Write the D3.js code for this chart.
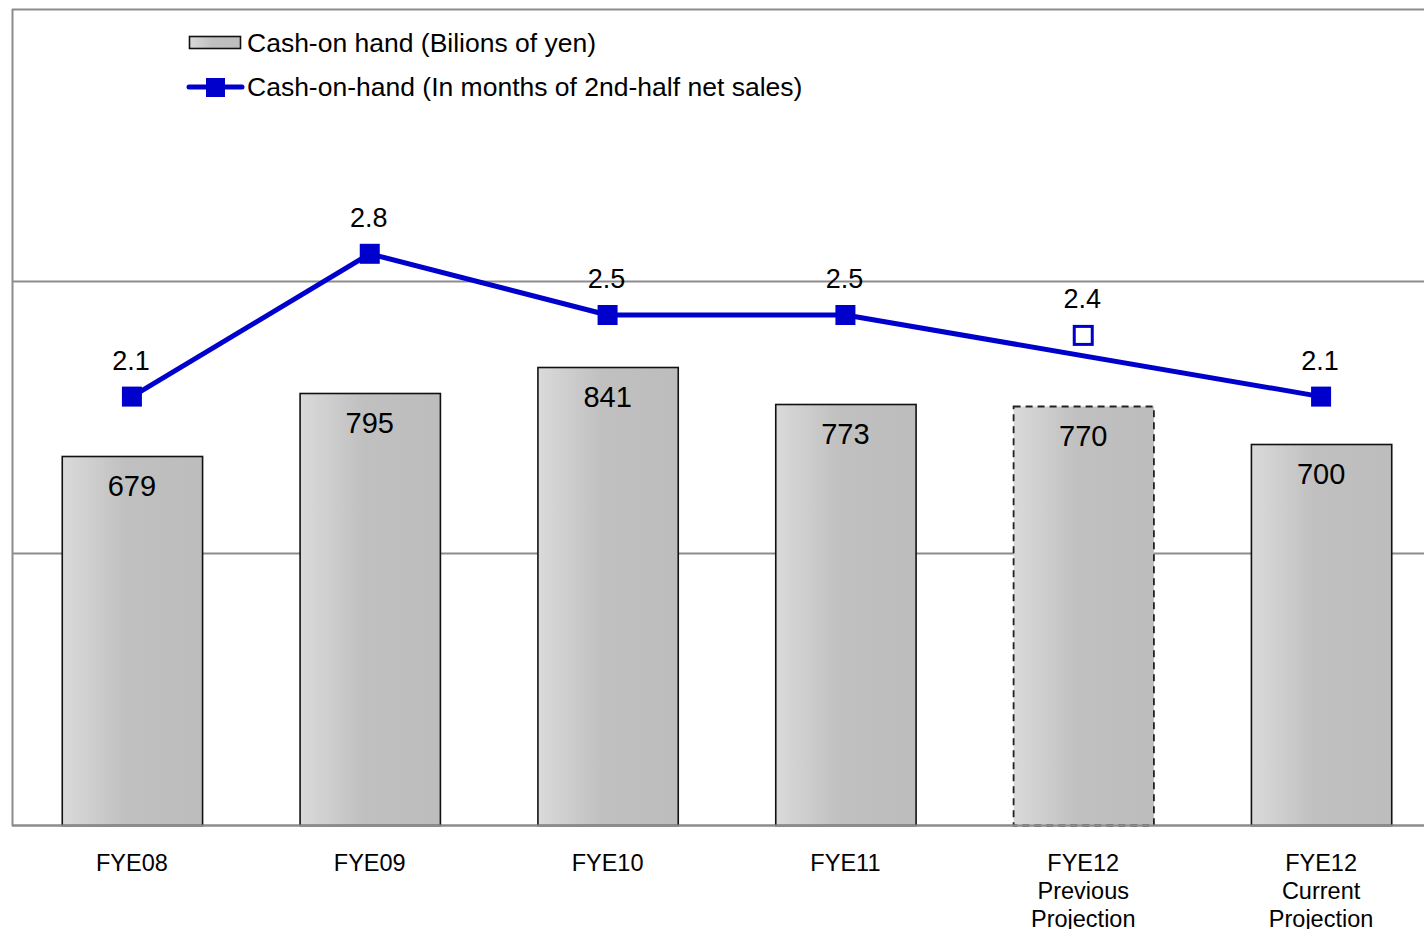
<!DOCTYPE html>
<html>
<head>
<meta charset="utf-8">
<script src="https://cdn.jsdelivr.net/npm/d3@7"></script>
<style>
  body { margin: 0; background: #fff; }
  svg { display: block; font-family: "Liberation Sans", Arial, sans-serif; }
</style>
</head>
<body>
<div id="chart"></div>
<script>
// categories and values
var categories = ['FYE08', 'FYE09', 'FYE10', 'FYE11', 'FYE12\nPrevious\nProjection', 'FYE12\nCurrent\nProjection'];
var cashBillions = [679, 795, 841, 773, 770, 700];
var cashMonths = [2.1, 2.8, 2.5, 2.5, 2.4, 2.1];
// the previous projection is shown as a hollow marker, not joined to the line
var projectionFlags = [false, false, false, false, true, false];
var barTicks = [0, 500, 1000, 1500];
var legendLabels = ['Cash-on hand (Bilions of yen)', 'Cash-on-hand (In months of 2nd-half net sales)'];

var width = 1424, height = 929;
var margin = { top: 9, left: 12, bottom: 104 };

var svg = d3.select('#chart').append('svg')
	.attr('width', width)
	.attr('height', height);

var defs = svg.append('defs');
var grad = defs.append('linearGradient')
	.attr('id', 'barGrad')
	.attr('x1', '0%').attr('x2', '100%').attr('y1', '0%').attr('y2', '0%');
grad.append('stop').attr('offset', '0%').attr('stop-color', '#dadada');
grad.append('stop').attr('offset', '45%').attr('stop-color', '#c0c0c0');
grad.append('stop').attr('offset', '100%').attr('stop-color', '#bdbdbd');

var x = d3.scaleBand()
	.domain(categories)
	.range([13, 1440])
	.paddingInner(0.41)
	.paddingOuter(0.205);

var yBar = d3.scaleLinear().domain([0, 1500]).range([height - margin.bottom, margin.top]);
var yLine = d3.scaleLinear().domain([0, 4]).range([height - margin.bottom, margin.top]);

// gridlines
svg.append('g').selectAll('line')
	.data(barTicks)
	.enter().append('line')
	.attr('x1', margin.left).attr('x2', width)
	.attr('y1', function(d) { return Math.round(yBar(d)) + 0.5; })
	.attr('y2', function(d) { return Math.round(yBar(d)) + 0.5; })
	.attr('stroke', '#8c8c8c')
	.attr('stroke-width', 2);

// left axis line
svg.append('line')
	.attr('x1', margin.left + 0.5).attr('x2', margin.left + 0.5)
	.attr('y1', yBar(1500)).attr('y2', yBar(0) + 1)
	.attr('stroke', '#8c8c8c')
	.attr('stroke-width', 2);

// bars
var bars = svg.append('g');
bars.selectAll('rect')
	.data(cashBillions)
	.enter().append('rect')
	.attr('x', function(d, i) { return x(categories[i]) + 0.5; })
	.attr('y', function(d) { return Math.round(yBar(d)) + 0.5; })
	.attr('width', x.bandwidth())
	.attr('height', function(d) { return yBar(0) - Math.round(yBar(d)); })
	.attr('fill', 'url(#barGrad)')
	.attr('stroke', function(d, i) { return projectionFlags[i] ? '#222' : '#111'; })
	.attr('stroke-width', function(d, i) { return projectionFlags[i] ? 1.8 : 1.6; })
	.attr('stroke-dasharray', function(d, i) { return projectionFlags[i] ? '7,5' : null; });

bars.selectAll('text')
	.data(cashBillions)
	.enter().append('text')
	.attr('x', function(d, i) { return x(categories[i]) + x.bandwidth() / 2; })
	.attr('y', function(d) { return yBar(d) + 40; })
	.attr('text-anchor', 'middle')
	.attr('font-size', '29px')
	.attr('fill', '#000')
	.text(function(d) { return d; });

// redraw baseline above the bars
svg.append('line')
	.attr('x1', margin.left).attr('x2', width)
	.attr('y1', Math.round(yBar(0)) + 0.5).attr('y2', Math.round(yBar(0)) + 0.5)
	.attr('stroke', '#8c8c8c')
	.attr('stroke-width', 2);

// line series
var cx = function(i) { return x(categories[i]) + x.bandwidth() / 2; };
var linePts = cashMonths.map(function(d, i) { return { i: i, v: d }; })
	.filter(function(p) { return !projectionFlags[p.i]; });

var line = d3.line()
	.x(function(p) { return cx(p.i); })
	.y(function(p) { return yLine(p.v); });

svg.append('path')
	.datum(linePts)
	.attr('d', line)
	.attr('fill', 'none')
	.attr('stroke', '#0000cc')
	.attr('stroke-width', 5)
	.attr('stroke-linejoin', 'round');

var markers = svg.append('g');
markers.selectAll('rect')
	.data(cashMonths)
	.enter().append('rect')
	.attr('x', function(d, i) { return cx(i) - (projectionFlags[i] ? 9 : 10); })
	.attr('y', function(d, i) { return yLine(d) - (projectionFlags[i] ? 9 : 10); })
	.attr('width', function(d, i) { return projectionFlags[i] ? 18 : 20; })
	.attr('height', function(d, i) { return projectionFlags[i] ? 18 : 20; })
	.attr('fill', function(d, i) { return projectionFlags[i] ? '#fff' : '#0000cc'; })
	.attr('stroke', '#0000cc')
	.attr('stroke-width', function(d, i) { return projectionFlags[i] ? 3 : 0; });

markers.selectAll('text')
	.data(cashMonths)
	.enter().append('text')
	.attr('x', function(d, i) { return cx(i) - 1; })
	.attr('y', function(d) { return yLine(d) - 27; })
	.attr('text-anchor', 'middle')
	.attr('font-size', '27px')
	.attr('fill', '#000')
	.text(function(d) { return d.toFixed(1); });

// category labels
var catG = svg.append('g');
categories.forEach(function(c, i) {
	var t = catG.append('text')
		.attr('x', cx(i))
		.attr('y', 871)
		.attr('text-anchor', 'middle')
		.attr('font-size', '23.5px')
		.attr('fill', '#000');
	c.split('\n').forEach(function(part, k) {
		t.append('tspan')
			.attr('x', cx(i))
			.attr('dy', k === 0 ? 0 : 28)
			.text(part);
	});
});

// legend
var legend = svg.append('g');
legend.append('rect')
	.attr('x', 189.5).attr('y', 36.5)
	.attr('width', 51).attr('height', 12)
	.attr('fill', 'url(#barGrad)')
	.attr('stroke', '#111')
	.attr('stroke-width', 1.6);
legend.append('text')
	.attr('x', 247).attr('y', 52)
	.attr('font-size', '26.5px')
	.text(legendLabels[0]);

legend.append('line')
	.attr('x1', 189).attr('x2', 242)
	.attr('y1', 87).attr('y2', 87)
	.attr('stroke', '#0000cc')
	.attr('stroke-width', 5)
	.attr('stroke-linecap', 'round');
legend.append('rect')
	.attr('x', 206).attr('y', 78)
	.attr('width', 19).attr('height', 19)
	.attr('fill', '#0000cc');
legend.append('text')
	.attr('x', 247).attr('y', 96)
	.attr('font-size', '26.5px')
	.text(legendLabels[1]);
</script>
</body>
</html>
